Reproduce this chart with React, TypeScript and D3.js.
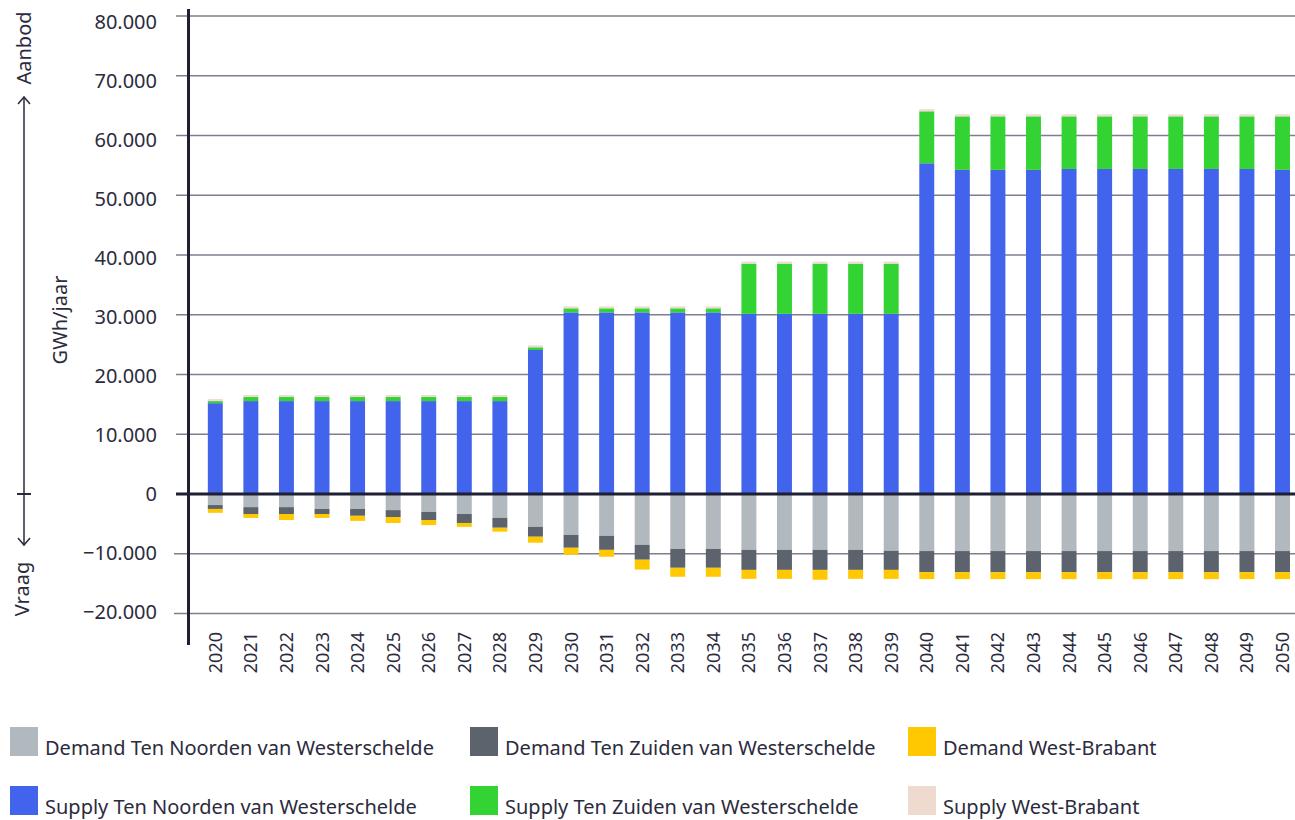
import React from 'react';
import * as d3 from 'd3';

const years = d3.range(2020, 2051).map(String);

// Supply (Aanbod), GWh/jaar
const supplyNoord = [
  15200, 15550, 15550, 15550, 15550, 15550, 15550, 15550, 15550, 24100,
  30400, 30400, 30400, 30400, 30400, 30150, 30150, 30150, 30150, 30150,
  55350, 54250, 54250, 54250, 54400, 54400, 54400, 54400, 54400, 54400, 54250,
];
const supplyZuid = [
  350, 680, 680, 680, 680, 680, 680, 680, 680, 450,
  670, 670, 670, 670, 670, 8400, 8400, 8400, 8400, 8400,
  8700, 8950, 8950, 8950, 8800, 8800, 8800, 8800, 8800, 8800, 8950,
];
const supplyWB = [
  330, 340, 340, 340, 340, 340, 340, 340, 340, 330,
  330, 330, 330, 330, 330, 340, 340, 340, 340, 340,
  350, 340, 340, 340, 340, 340, 340, 340, 340, 340, 340,
];

// Demand (Vraag), GWh/jaar
const demandNoord = [
  1850, 2200, 2200, 2500, 2500, 2700, 3000, 3350, 4000, 5500,
  6850, 7000, 8500, 9200, 9200, 9350, 9350, 9350, 9350, 9500,
  9550, 9550, 9550, 9550, 9550, 9550, 9550, 9550, 9550, 9550, 9550,
];
const demandZuid = [
  650, 1150, 1150, 850, 1150, 1150, 1350, 1500, 1650, 1650,
  2150, 2350, 2500, 3150, 3150, 3350, 3350, 3350, 3350, 3200,
  3550, 3550, 3550, 3550, 3550, 3550, 3550, 3550, 3550, 3550, 3550,
];
const demandWB = [
  650, 650, 1000, 650, 850, 1000, 850, 650, 650, 1000,
  1150, 1150, 1650, 1500, 1500, 1500, 1500, 1650, 1500, 1500,
  1150, 1150, 1150, 1150, 1150, 1150, 1150, 1150, 1150, 1150, 1150,
];

const yTicks = d3.range(-20000, 80001, 10000);

const series = [
  { key: 'dN', label: 'Demand Ten Noorden van Westerschelde', color: '#b1b9bf', values: demandNoord, sign: -1 },
  { key: 'dZ', label: 'Demand Ten Zuiden van Westerschelde', color: '#5c636d', values: demandZuid, sign: -1 },
  { key: 'dW', label: 'Demand West-Brabant', color: '#ffc800', values: demandWB, sign: -1 },
  { key: 'sN', label: 'Supply Ten Noorden van Westerschelde', color: '#4263eb', values: supplyNoord, sign: 1 },
  { key: 'sZ', label: 'Supply Ten Zuiden van Westerschelde', color: '#33d333', values: supplyZuid, sign: 1 },
  { key: 'sW', label: 'Supply West-Brabant', color: '#efdacf', values: supplyWB, sign: 1 },
];

const FONT = '"Noto Sans", sans-serif';
const INK = '#2b2b3d';
const DARK = '#1f1f33';

export default function App() {
  const width = 1295;
  const height = 820;

  const x = d3
    .scaleBand()
    .domain(years)
    .range([197.5, 1300.3])
    .paddingInner(0.58)
    .paddingOuter(0.29);

  const y = d3.scaleLinear().domain([-20000, 80000]).range([613.5, 16]);

  // one row per year, demand negative so the diverging stack puts it below zero
  const rows = years.map((yr, i) => {
    const r: any = { year: yr };
    series.forEach((s) => (r[s.key] = s.sign * s.values[i]));
    return r;
  });

  const stacked = d3
    .stack()
    .keys(series.map((s) => s.key))
    .offset(d3.stackOffsetDiverging)(rows);

  const fmt = (v: number) => (v === 0 ? '0' : d3.format(',')(v).replace(/,/g, '.'));

  return (
    <svg
      width={width}
      height={height}
      style={{ position: 'absolute', left: 0, top: 0, background: '#fff' }}
      fontFamily={FONT}
    >
      {/* gridlines */}
      <g>
        {yTicks.map((t) => (
          <line
            key={t}
            x1={t < 0 ? 174 : 176}
            x2={1295}
            y1={y(t)}
            y2={y(t)}
            stroke="#7e7e8e"
            strokeWidth={1.5}
          />
        ))}
      </g>

      {/* bars */}
      <g>
        {stacked.map((layer, li) => (
          <g key={layer.key} fill={series[li].color}>
            {layer.map((d: any) => (
              <rect
                key={d.data.year}
                x={x(d.data.year)}
                width={x.bandwidth()}
                y={y(Math.max(d[0], d[1]))}
                height={Math.abs(y(d[0]) - y(d[1]))}
              />
            ))}
          </g>
        ))}
      </g>

      {/* zero line and axis */}
      <line x1={176} x2={1295} y1={y(0)} y2={y(0)} stroke={DARK} strokeWidth={3} />
      <line x1={188.5} x2={188.5} y1={9} y2={645} stroke={DARK} strokeWidth={3} />

      {/* y tick labels */}
      <g fontSize={20} fill={INK} textAnchor="end">
        {yTicks.map((t) => (
          <text key={t} x={157} y={y(t) + 6 * (t / 80000)} dy="0.35em">
            {fmt(t)}
          </text>
        ))}
      </g>

      {/* x tick labels */}
      <g fontSize={18} fill={INK} textAnchor="end">
        {years.map((yr) => (
          <text
            key={yr}
            transform={`translate(${(x(yr) as number) + x.bandwidth() / 2 + 6.5},632) rotate(-90)`}
          >
            {yr}
          </text>
        ))}
      </g>

      {/* axis title and supply/demand arrow */}
      <text transform="translate(67,320) rotate(-90)" textAnchor="middle" fontSize={20} fill={INK}>
        GWh/jaar
      </text>
      <g stroke={INK} strokeWidth={1.5} fill="none">
        <line x1={24} x2={24} y1={97} y2={545} />
        <polyline points="18,104 24,97 30,104" />
        <polyline points="18,538 24,545 30,538" />
        <line x1={17} x2={31} y1={494} y2={494} strokeWidth={2} />
      </g>
      <text transform="translate(31,48) rotate(-90)" textAnchor="middle" fontSize={20} fill={INK}>
        Aanbod
      </text>
      <text transform="translate(29,589) rotate(-90)" textAnchor="middle" fontSize={20} fill={INK}>
        Vraag
      </text>

      {/* legend */}
      <g fontSize={20} fill={INK}>
        {series.map((s, i) => {
          const col = i % 3;
          const row = Math.floor(i / 3);
          const lx = [10, 470, 908][col];
          const ly = [727, 786][row];
          return (
            <g key={s.key}>
              <rect x={lx} y={ly} width={28} height={29} fill={s.color} />
              <text x={lx + 35} y={ly + 28}>
                {s.label}
              </text>
            </g>
          );
        })}
      </g>
    </svg>
  );
}
